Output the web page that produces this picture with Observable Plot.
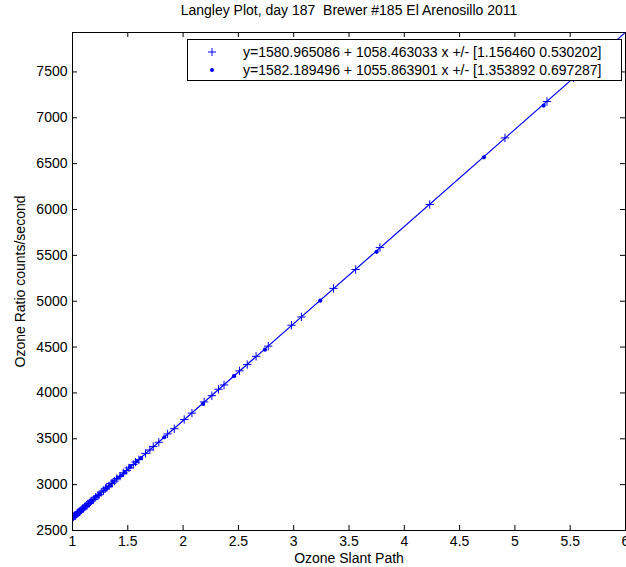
<!DOCTYPE html>
<html>
<head>
<meta charset="utf-8">
<script src="https://cdn.jsdelivr.net/npm/d3@7"></script>
<script src="https://cdn.jsdelivr.net/npm/@observablehq/plot@0.6"></script>
<style>
  html, body { margin: 0; padding: 0; background: #fff; }
</style>
</head>
<body>
<div id="chart"></div>
<script>
// ---- data ----
const titleText = "Langley Plot, day 187  Brewer #185 El Arenosillo 2011";
const xLabel = "Ozone Slant Path";
const yLabel = "Ozone Ratio counts/second";

const plusX = [1.00,1.01,1.015,1.02,1.025,1.03,1.04,1.045,1.05,1.06,1.065,1.07,1.08,1.09,1.10,1.11,1.12,1.13,1.14,1.15,1.16,1.17,1.19,1.21,1.23,1.24,1.26,1.28,1.30,1.31,1.33,1.35,1.36,1.38,1.40,1.43,1.46,1.49,1.51,1.55,1.57,1.60,1.66,1.70,1.73,1.78,1.86,1.92,2.01,2.08,2.19,2.26,2.32,2.37,2.51,2.58,2.66,2.77,2.98,3.07,3.36,3.56,3.78,4.23,4.91,5.29,5.53];
const plusY = [2641,2648,2659,2662,2661,2668,2684,2692,2690,2706,2703,2711,2726,2739,2742,2758,2764,2772,2791,2795,2814,2822,2838,2864,2879,2890,2918,2933,2960,2973,2986,3013,3016,3039,3066,3092,3129,3155,3182,3219,3246,3272,3341,3378,3415,3462,3553,3610,3711,3780,3902,3970,4040,4087,4241,4309,4399,4510,4738,4828,5140,5346,5585,6055,6781,7177,7437];

const dotX = [1.00,1.01,1.02,1.03,1.04,1.05,1.06,1.075,1.09,1.11,1.13,1.16,1.18,1.20,1.22,1.25,1.29,1.31,1.34,1.37,1.41,1.44,1.47,1.52,1.58,1.62,1.83,2.18,2.46,2.74,3.24,3.75,4.72,5.26];
const dotY = [2636,2652,2661,2666,2678,2695,2704,2714,2730,2758,2777,2804,2825,2852,2874,2899,2947,2961,2994,3033,3074,3099,3131,3191,3253,3290,3517,3881,4183,4472,5006,5539,6569,7133];

const fitX = [1, 6];
const fitY = [2639.4, 7931.3];

const xTicks = [1,1.5,2,2.5,3,3.5,4,4.5,5,5.5,6];
const yTicks = [2500,3000,3500,4000,4500,5000,5500,6000,6500,7000,7500];

const legendLabels = [
  "y=1580.965086 + 1058.463033 x +/- [1.156460 0.530202]",
  "y=1582.189496 + 1055.863901 x +/- [1.353892 0.697287]"
];

// ---- build ----
const W = 626, H = 567;
const mL = 72, mR = 1, mT = 32, mB = 37;
const fw = W - mL - mR, fh = H - mT - mB;
const blue = "#0000ff";
const plusData = plusX.map((x, i) => ({x, y: plusY[i]}));
const dotData = dotX.map((x, i) => ({x, y: dotY[i]}));
const fitData = fitX.map((x, i) => ({x, y: fitY[i]}));

const svg = Plot.plot({
  width: W, height: H,
  marginLeft: mL, marginRight: mR, marginTop: mT, marginBottom: mB,
  style: {fontFamily: "'Liberation Sans', Arial, Helvetica, sans-serif", fontSize: "14px", color: "#000", background: "#fff"},
  x: {domain: [1, 6]},
  y: {domain: [2500, 7930]},
  marks: [
    Plot.dot(plusData, {x: "x", y: "y", symbol: "plus", r: 2.8, stroke: blue, strokeWidth: 1, fill: "none", clip: true}),
    Plot.dot(dotData, {x: "x", y: "y", r: 2.1, fill: blue, stroke: "none", clip: true}),
    Plot.line(fitData, {x: "x", y: "y", stroke: blue, strokeWidth: 1.2, clip: true}),
    // inward ticks
    Plot.tickX(xTicks, {x: d => d, insetTop: fh - 5, stroke: "#000"}),
    Plot.tickX(xTicks, {x: d => d, insetBottom: fh - 5, stroke: "#000"}),
    Plot.tickY(yTicks, {y: d => d, insetRight: fw - 5, stroke: "#000"}),
    Plot.tickY(yTicks, {y: d => d, insetLeft: fw - 5, stroke: "#000"}),
    Plot.axisX(xTicks, {tickSize: 0, tickPadding: 6, tickFormat: d => String(d), label: null, fill: "#000"}),
    Plot.axisY(yTicks, {tickSize: 0, tickPadding: 5, tickFormat: d => String(d), label: null, fill: "#000"}),
    Plot.frame({stroke: "#000", strokeWidth: 1}),
    Plot.text([titleText], {text: d => d, frameAnchor: "top", dy: -22, lineAnchor: "middle", textAnchor: "middle", fill: "#000"}),
    Plot.text([xLabel], {text: d => d, frameAnchor: "bottom", dy: 28, lineAnchor: "middle", textAnchor: "middle", fill: "#000"}),
    Plot.text([yLabel], {text: d => d, frameAnchor: "left", dx: -52, rotate: -90, lineAnchor: "middle", textAnchor: "middle", fill: "#000"})
  ]
});

// legend box
const lg = d3.select(svg).append("g").attr("text-anchor", "start");
const lx = 187, ly = 39, lw = 434, lh = 41;
lg.append("rect").attr("x", lx + 0.5).attr("y", ly + 0.5).attr("width", lw).attr("height", lh)
  .attr("fill", "#fff").attr("stroke", "#000");
const rowY = [52, 70];
lg.append("path").attr("d", `M${212-4},${rowY[0]}h8M212,${rowY[0]-4}v8`).attr("stroke", blue).attr("fill", "none");
lg.append("circle").attr("cx", 212).attr("cy", rowY[1]).attr("r", 2).attr("fill", blue);
legendLabels.forEach((t, i) => {
  lg.append("text").attr("x", 243).attr("y", rowY[i]).attr("dy", "0.35em")
    .attr("text-anchor", "start").attr("fill", "#000").text(t);
});

document.getElementById("chart").appendChild(svg);
</script>
</body>
</html>
